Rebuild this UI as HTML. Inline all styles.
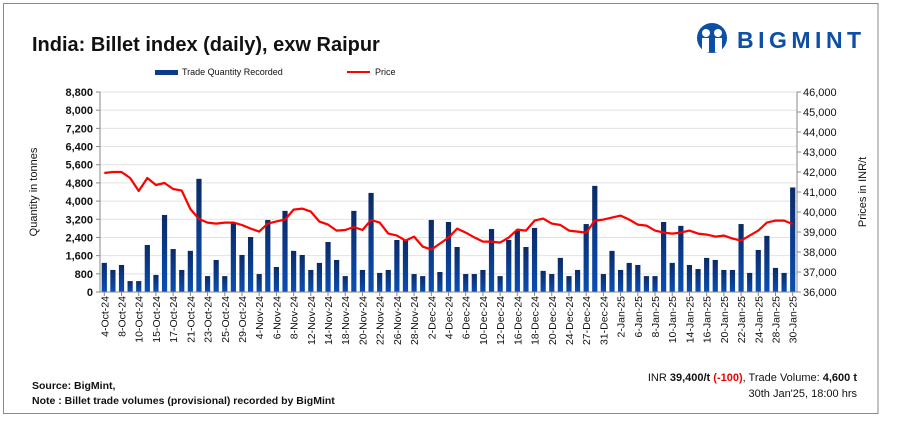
<!DOCTYPE html>
<html><head><meta charset="utf-8"><style>
body{margin:0;background:#fff;font-family:"Liberation Sans",Arial,sans-serif}
svg text{font-family:"Liberation Sans",Arial,sans-serif}
</style></head><body>
<svg id="c" width="897" height="435" xmlns="http://www.w3.org/2000/svg">
<defs><linearGradient id="bg" x1="0" y1="0" x2="0" y2="1"><stop offset="0" stop-color="#0b2a66"/><stop offset="1" stop-color="#0a4fb5"/></linearGradient></defs>
<rect x="3.5" y="3.5" width="874.5" height="410" fill="#fff" stroke="#8a8a8a"/>
<text x="32" y="51" font-size="20" font-weight="bold" fill="#111">India: Billet index (daily), exw Raipur</text>
<g>
<circle cx="712" cy="38" r="15" fill="#0d4ea6"/>
<circle cx="706" cy="33" r="4" fill="#fff"/><circle cx="718" cy="33" r="4" fill="#fff"/>
<rect x="702" y="38" width="7" height="14" fill="#fff"/><rect x="715" y="38" width="7" height="14" fill="#fff"/>
<text x="737" y="48" font-size="23" font-weight="bold" fill="#0d4ea6" letter-spacing="4.5">BIGMINT</text>
</g>
<g>
<rect x="155" y="70" width="23" height="5" fill="#0b3a8f"/>
<text x="182" y="75" font-size="9" fill="#111">Trade Quantity Recorded</text>
<line x1="347" y1="72" x2="370" y2="72" stroke="#f00" stroke-width="2"/>
<text x="375" y="75" font-size="9" fill="#111">Price</text>
</g>
<g id="grid"></g><g id="bars"></g><g id="line"></g><g id="axes"></g>
<text transform="translate(37,192) rotate(-90)" text-anchor="middle" font-size="11" fill="#111">Quantity in tonnes</text>
<text transform="translate(866,192) rotate(-90)" text-anchor="middle" font-size="11" fill="#111">Prices in INR/t</text>
<text x="32" y="389" font-size="10.5" font-weight="bold" fill="#111">Source: BigMint,</text>
<text x="32" y="404" font-size="10.5" font-weight="bold" fill="#111">Note : Billet trade volumes (provisional) recorded by BigMint</text>
<text x="857" y="381" text-anchor="end" font-size="11" fill="#111">INR <tspan font-weight="bold">39,400/t</tspan> <tspan font-weight="bold" fill="#e00">(-100)</tspan>, Trade Volume: <tspan font-weight="bold">4,600 t</tspan></text>
<text x="857" y="397" text-anchor="end" font-size="11" fill="#111">30th Jan'25, 18:00 hrs</text>
</svg>
<script>
const labels=["4-Oct-24","8-Oct-24","10-Oct-24","15-Oct-24","17-Oct-24","21-Oct-24","23-Oct-24","25-Oct-24","29-Oct-24","4-Nov-24","6-Nov-24","8-Nov-24","12-Nov-24","14-Nov-24","18-Nov-24","20-Nov-24","22-Nov-24","26-Nov-24","28-Nov-24","2-Dec-24","4-Dec-24","6-Dec-24","10-Dec-24","12-Dec-24","16-Dec-24","18-Dec-24","20-Dec-24","24-Dec-24","27-Dec-24","31-Dec-24","2-Jan-25","6-Jan-25","8-Jan-25","10-Jan-25","14-Jan-25","16-Jan-25","20-Jan-25","22-Jan-25","24-Jan-25","28-Jan-25","30-Jan-25"];
const quantity=[1280,970,1190,480,480,2070,750,3390,1890,970,1810,4980,700,1410,700,3020,1630,2420,790,3170,1100,3570,1810,1630,970,1280,2200,1410,700,3570,970,4360,840,970,2290,2290,790,700,3170,880,3080,1980,790,790,970,2770,700,2290,2690,1980,2820,930,790,1500,700,970,2990,4670,790,1810,970,1280,1190,700,700,3080,1280,2910,1190,1010,1500,1410,970,970,2990,840,1850,2470,1060,840,4600];
const price=[41950,42000,42000,41700,41050,41700,41350,41450,41150,41070,40150,39650,39470,39420,39470,39470,39350,39170,39020,39420,39530,39620,40120,40170,40020,39520,39370,39070,39100,39250,39100,39600,39470,38920,38820,38570,38770,38270,38120,38420,38720,39170,38970,38730,38520,38520,38470,38720,39120,39070,39570,39670,39420,39350,39070,39020,38970,39570,39620,39720,39820,39620,39370,39320,39070,38970,38920,38970,39070,38920,38870,38770,38820,38670,38570,38820,39070,39470,39570,39570,39400];
const leftTicks=[0,800,1600,2400,3200,4000,4800,5600,6400,7200,8000,8800];
const rightTicks=[36000,37000,38000,39000,40000,41000,42000,43000,44000,45000,46000];
const NS="http://www.w3.org/2000/svg";
const X0=100,X1=797,Y0=292,Y1=92;
const bw=(X1-X0)/quantity.length;
const xc=i=>X0+(i+0.5)*bw;
const yL=v=>Y0-(v/8800)*(Y0-Y1);
const yR=v=>Y0-((v-36000)/10000)*(Y0-Y1);
function mk(t,a,p){const e=document.createElementNS(NS,t);for(const k in a)e.setAttribute(k,a[k]);p.appendChild(e);return e;}
const grid=document.getElementById('grid'),bars=document.getElementById('bars'),line=document.getElementById('line'),axes=document.getElementById('axes');
leftTicks.forEach(v=>{
 const g=mk('line',{x1:X0,x2:X1,y1:yL(v),y2:yL(v),stroke:'#e2e2e2','stroke-width':1},grid);
 
 
 const t=mk('text',{x:93,y:yL(v)+4,'text-anchor':'end','font-size':11,'font-weight':'bold',fill:'#111'},axes);
 t.textContent=v.toLocaleString('en-US');
 
 
 mk('line',{x1:X0-4,x2:X0,y1:yL(v),y2:yL(v),stroke:'#888'},axes);
});
rightTicks.forEach(v=>{
 const t=mk('text',{x:803,y:yR(v)+4,'font-size':11,fill:'#111'},axes);
 t.textContent=v.toLocaleString('en-US');
 
 
 mk('line',{x1:X1,x2:X1+4,y1:yR(v),y2:yR(v),stroke:'#888'},axes);
});
quantity.forEach((v,i)=>{
 const r=mk('rect',{x:xc(i)-2.6,y:yL(v),width:5.2,height:Y0-yL(v),fill:'url(#bg)'},bars);
 
 
});
const pl=mk('polyline',{points:price.map((v,i)=>xc(i)+','+yR(v)).join(' '),fill:'none',stroke:'#f00','stroke-width':2.2,'stroke-linejoin':'round'},line);


mk('line',{x1:X0,x2:X0,y1:Y1,y2:Y0,stroke:'#888'},axes);
mk('line',{x1:X1,x2:X1,y1:Y1,y2:Y0,stroke:'#888'},axes);
mk('line',{x1:X0,x2:X1,y1:Y0,y2:Y0,stroke:'#888'},axes);
labels.forEach((s,k)=>{
 const i=k*2;
 const t=mk('text',{transform:`translate(${xc(i)+4},296) rotate(-90)`,'text-anchor':'end','font-size':10.5,fill:'#111'},axes);
 t.textContent=s;
 
 
 mk('line',{x1:xc(i),x2:xc(i),y1:Y0,y2:Y0+4,stroke:'#888'},axes);
});
</script>
</body></html>
